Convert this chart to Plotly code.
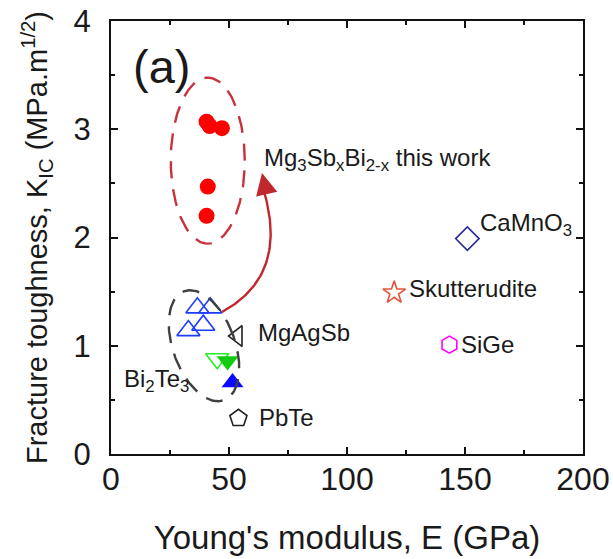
import numpy as np
import plotly.graph_objects as go

# ---------------- data ----------------
mg3sb_E = [40.5, 41.8, 47.0, 41.0, 40.5]
mg3sb_K = [3.07, 3.03, 3.01, 2.47, 2.20]

bi2te3_open_E = [36.6, 42.1, 32.8, 39.1]
bi2te3_open_K = [1.35, 1.35, 1.14, 1.19]

mgagsb_E = [53.6]
mgagsb_K = [1.09]

green_open_E = [45.0]
green_open_K = [0.88]
green_fill_E = [49.4]
green_fill_K = [0.86]

blue_fill_E = [51.5]
blue_fill_K = [0.66]

pbte_E = [54.0]
pbte_K = [0.33]

camno3_E = [151.0]
camno3_K = [1.99]

skutt_E = [120.0]
skutt_K = [1.49]

sige_E = [143.4]
sige_K = [1.01]

x_ticks = [0, 50, 100, 150, 200]
y_ticks = [0, 1, 2, 3, 4]

# ---------------- layout geometry ----------------
W, H = 613, 559
ML, MR, MT, MB = 111, 30, 21, 105
PW, PH = W - ML - MR, H - MT - MB
XR, YR = (0, 200), (0, 4)
sx = PW / (XR[1] - XR[0])
sy = PH / (YR[1] - YR[0])

FONT = "Liberation Sans, Arial, sans-serif"
TXT = "#1a1a1a"

fig = go.Figure()

def pts(E, K, symbol, color, size, filled, lw=1.6):
    fig.add_trace(go.Scatter(
        x=E, y=K, mode="markers", showlegend=False, hoverinfo="skip",
        marker=dict(symbol=symbol if filled else symbol + "-open",
                    size=size, color=color,
                    line=dict(color=color, width=lw))))

pts(mg3sb_E, mg3sb_K, "circle", "#ff0000", 16, True, 0)
pts(bi2te3_open_E, bi2te3_open_K, "triangle-up", "#1f3cff", 20, False)
pts(mgagsb_E, mgagsb_K, "triangle-left", "#222222", 18, False)
pts(green_open_E, green_open_K, "triangle-down", "#22ee22", 20, False)
pts(green_fill_E, green_fill_K, "triangle-down", "#11cc11", 19, True, 0)
pts(blue_fill_E, blue_fill_K, "triangle-up", "#0a0aff", 19, True, 0)
pts(pbte_E, pbte_K, "pentagon", "#222222", 18, False)
pts(camno3_E, camno3_K, "diamond", "#2b2b9a", 18, False)
pts(skutt_E, skutt_K, "star", "#e2553a", 17, False)
pts(sige_E, sige_K, "hexagon", "#ff00ff", 17, False)

# ---------------- dashed ellipses ----------------
def ellipse(cx, cy, a_px, b_px, tilt_deg, color):
    t = np.linspace(0, 2 * np.pi, 200)
    th = np.radians(tilt_deg)
    u = b_px * np.cos(t)
    v = a_px * np.sin(t)
    dx = u * np.cos(th) - v * np.sin(th)
    dy = u * np.sin(th) + v * np.cos(th)
    fig.add_trace(go.Scatter(
        x=cx + dx / sx, y=cy + dy / sy, mode="lines", showlegend=False,
        hoverinfo="skip",
        line=dict(color=color, width=2.4, dash="17px,11px")))

ellipse(41.0, 2.71, 83, 37, 0, "#c8323c")
ellipse(39.4, 1.00, 58, 31, 20, "#404040")

# ---------------- curved arrow ----------------
def px2d(px, py):
    return (px - ML) / sx, (H - MB - py) / sy

p0 = px2d(222, 312)
pc = px2d(290, 275)
p1 = px2d(263, 188)
tt = np.linspace(0, 1, 60)
bx = (1 - tt) ** 2 * p0[0] + 2 * (1 - tt) * tt * pc[0] + tt ** 2 * p1[0]
by = (1 - tt) ** 2 * p0[1] + 2 * (1 - tt) * tt * pc[1] + tt ** 2 * p1[1]
fig.add_trace(go.Scatter(x=bx, y=by, mode="lines", showlegend=False,
                         hoverinfo="skip",
                         line=dict(color="#c0282d", width=2.4)))
tip = px2d(262, 173)
fig.add_annotation(x=tip[0], y=tip[1], ax=4, ay=18, axref="pixel", ayref="pixel",
                   showarrow=True, arrowhead=2, arrowsize=1.8, arrowwidth=2.4,
                   arrowcolor="#c0282d", text="")

# ---------------- text labels ----------------
def label(x, y, text, size=24):
    fig.add_annotation(x=x, y=y, text=text, showarrow=False, xanchor="left",
                       yanchor="middle", font=dict(family=FONT, size=size, color=TXT))

label(8.3, 3.58, "(a)", 47)
label(64.0, 2.72, "Mg<sub>3</sub>Sb<sub>x</sub>Bi<sub>2-x</sub> this work")
label(155.5, 2.12, "CaMnO<sub>3</sub>")
label(125.3, 1.53, "Skutterudite")
label(61.6, 1.12, "MgAgSb")
label(147.6, 1.01, "SiGe")
label(4.8, 0.68, "Bi<sub>2</sub>Te<sub>3</sub>")
label(62.0, 0.34, "PbTe")

axis_common = dict(showline=True, linecolor="#111111", linewidth=2, mirror="allticks",
                   ticks="inside", ticklen=7, tickwidth=2, tickcolor="#111111",
                   showgrid=False, zeroline=False, automargin=False)

fig.update_layout(
    width=W, height=H, margin=dict(l=ML, r=MR, t=MT, b=MB),
    plot_bgcolor="white", paper_bgcolor="white",
    xaxis=dict(range=list(XR), tickvals=x_ticks, ticklabelstandoff=-4,
               tickfont=dict(family=FONT, size=32, color=TXT),
               minor=dict(ticks="inside", ticklen=4, tickwidth=2, dtick=25,
                          tickcolor="#111111"),
               title=dict(text="Young's modulus, E (GPa)", standoff=29,
                          font=dict(family=FONT, size=33, color=TXT)),
               **axis_common),
    yaxis=dict(range=list(YR), tickvals=y_ticks, ticklabelstandoff=12,
               tickfont=dict(family=FONT, size=31, color=TXT),
               minor=dict(ticks="inside", ticklen=4, tickwidth=2, dtick=0.5,
                          tickcolor="#111111"),
               title=dict(text="Fracture toughness, K<sub>IC</sub> (MPa.m<sup>1/2</sup>)",
                          standoff=17, font=dict(family=FONT, size=29, color=TXT)),
               **axis_common),
)

fig.write_html("out.html")
